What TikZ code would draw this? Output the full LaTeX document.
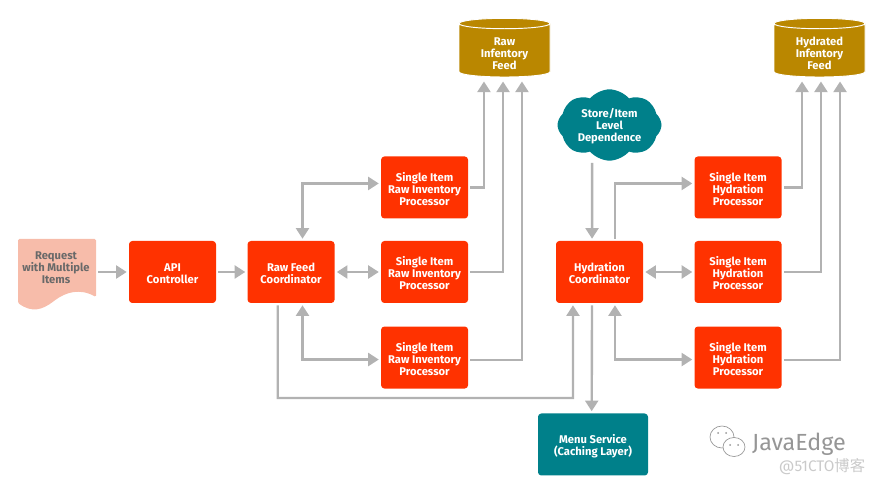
\documentclass[tikz,border=0pt]{standalone}
\usepackage{fontspec}
\setmainfont{Fira Sans}
\newfontfamily\cjkfont{Noto Sans CJK SC}
\usepackage{xcolor}
\usetikzlibrary{shapes.geometric, shapes.symbols, arrows.meta, positioning}
\definecolor{procred}{RGB}{255,50,0}
\definecolor{cloudteal}{RGB}{0,128,138}
\definecolor{storegold}{RGB}{186,135,0}
\definecolor{docpeach}{RGB}{247,188,170}
\definecolor{doctext}{RGB}{105,105,105}
\definecolor{linkgray}{RGB}{178,178,178}
\definecolor{markgray}{RGB}{150,150,150}
\newcommand{\topgap}{\rule{0pt}{9pt}}
\newcommand{\topgapdb}{\rule{0pt}{10.5pt}}

\begin{document}
\begin{tikzpicture}[
    x=0.75pt, y=-0.75pt,
    node distance=17.25pt,
    boxfont/.style={font=\fontsize{8.4pt}{9pt}\selectfont\bfseries, align=center, inner sep=0pt},
    redbox/.style={rectangle, boxfont, fill=procred, text=white, minimum width=65.25pt, minimum height=46.5pt, rounded corners=2.5pt},
    tealbox/.style={redbox, fill=cloudteal, minimum width=82.5pt},
    store/.style={cylinder, boxfont, shape border rotate=90, aspect=0.22, draw=white, line width=0.7pt, cylinder uses custom fill, cylinder body fill=storegold, cylinder end fill=storegold, text=white, minimum width=68.25pt, minimum height=44pt},
    arrow/.style={-{Triangle[length=8pt,width=9.75pt]}, line width=1.8pt, linkgray, shorten >=1.5pt, shorten <=1.5pt},
    duplex/.style={arrow, {Triangle[length=8pt,width=9.75pt]}-{Triangle[length=8pt,width=9.75pt]}},
    dbarrow/.style={arrow, shorten >=3pt},
]
    \useasboundingbox (0,0) rectangle (875,484);

    % request sheet
    \fill[docpeach, rounded corners=1pt] (18,239) -- (96,239) -- (96,297) .. controls (80,288) and (66,292) .. (54,301) .. controls (42,310) and (32,313) .. (18,303) -- cycle;
    \node[boxfont, text=doctext] (req) at (56,267.5) {Request\\with Multiple\\Items};
    \coordinate (reqout) at (96,272);

    \node[redbox] (api) at (172.5,272) {\topgap API\\Controller};
    \node[redbox, right=23.25pt of api] (rawfeed) {\topgap Raw Feed\\Coordinator};
    \node[redbox, right=34.5pt of rawfeed] (rawmid) {\topgap Single Item\\Raw Inventory\\Processor};
    \node[redbox, above=16.5pt of rawmid] (rawtop) {\topgap Single Item\\Raw Inventory\\Processor};
    \node[redbox, below=of rawmid] (rawbot) {\topgap Single Item\\Raw Inventory\\Processor};

    \node[redbox] (hyd) at (599.5,272) {\topgap Hydration\\Coordinator};
    \node[redbox, right=38.25pt of hyd] (hydmid) {\topgap Single Item\\Hydration\\Processor};
    \node[redbox, above=16.5pt of hydmid] (hydtop) {\topgap Single Item\\Hydration\\Processor};
    \node[redbox, below=of hydmid] (hydbot) {\topgap Single Item\\Hydration\\Processor};

    \node[tealbox] (menu) at (593,444.5) {\topgap Menu Service\\(Caching Layer)};
    \node[store] (rawdb) at (504.5,50.5) {\topgapdb Raw\\Infentory\\Feed};
    \node[store] (hyddb) at (819.5,50.5) {\topgapdb Hydrated\\Infentory\\Feed};
    \node[cloud, boxfont, cloud puffs=8, cloud puff arc=100, aspect=1.5, fill=cloudteal, text=white, minimum width=78pt, minimum height=50pt] (dep) at (609.5,125) {\topgap Store/Item\\Level\\Dependence};
    \coordinate (feedturn) at (573,398);

    \draw[arrow] (reqout) -- (api);
    \draw[arrow] (api) -- (rawfeed);
    \draw[duplex] ([xshift=8.6pt]rawfeed.north) |- ([yshift=3pt]rawtop.west);
    \draw[duplex] (rawfeed) -- (rawmid);
    \draw[duplex] ([xshift=8.6pt]rawfeed.south) |- ([yshift=-1.5pt]rawbot.west);
    \draw[arrow] ([xshift=-10pt]rawfeed.south) |- (feedturn) -- ([xshift=-19.9pt]hyd.south);

    \draw[dbarrow] (rawtop.east) -| ([xshift=-15.4pt]rawdb.south);
    \draw[dbarrow] (rawmid.east) -| ([xshift=-1.1pt]rawdb.south);
    \draw[dbarrow] ([yshift=-2pt]rawbot.east) -| ([xshift=13.1pt]rawdb.south);

    \draw[arrow] ([xshift=-13pt]dep.south) -- ([xshift=-5.6pt]hyd.north);
    \draw[arrow] ([xshift=11.6pt]hyd.north) |- ([yshift=3pt]hydtop.west);
    \draw[duplex] (hyd) -- (hydmid);
    \draw[duplex] ([xshift=11.6pt]hyd.south) |- ([yshift=-1.5pt]hydbot.west);
    \draw[arrow] ([xshift=-5.6pt]hyd.south) -- ([xshift=-1pt]menu.north);

    \draw[dbarrow] (hydtop.east) -| ([xshift=-13.1pt]hyddb.south);
    \draw[dbarrow] (hydmid.east) -| ([xshift=1.1pt]hyddb.south);
    \draw[dbarrow] ([yshift=-2pt]hydbot.east) -| ([xshift=15.4pt]hyddb.south);

    % watermark
    \draw[markgray, line width=0.5pt, fill=white] (722,437) ellipse (12 and 11);
    \draw[markgray, line width=0.5pt, fill=white] (734,447) ellipse (11 and 9.5);
    \fill[markgray] (718,433) circle (1) (726,433) circle (1) (730,445) circle (1) (738,445) circle (1);
    \node[text=markgray, font=\fontsize{17.5pt}{18pt}\selectfont, inner sep=0pt] (brand) at (799,444) {JavaEdge};
    \node[text=markgray!50, font=\fontsize{11.5pt}{12pt}\selectfont, inner sep=0pt] (site) at (822,467) {@51CTO{\cjkfont 博客}};
\end{tikzpicture}
\end{document}
